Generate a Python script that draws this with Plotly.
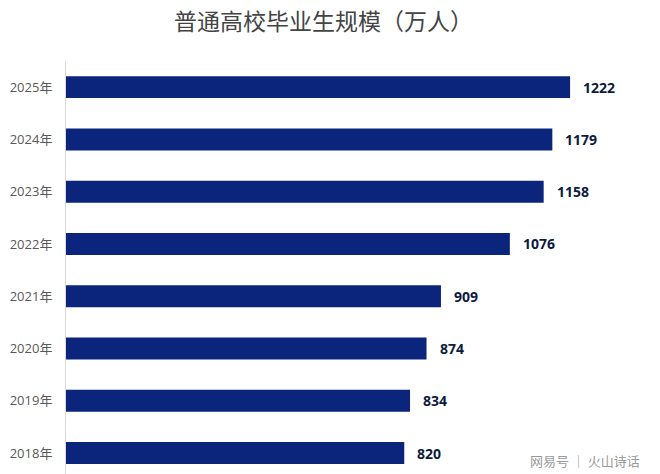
import plotly.graph_objects as go

years = ["2018年", "2019年", "2020年", "2021年", "2022年", "2023年", "2024年", "2025年"]
values = [820, 834, 874, 909, 1076, 1158, 1179, 1222]
title_text = "普通高校毕业生规模（万人）"
watermark = "网易号 ｜ 火山诗话"

fig = go.Figure()
fig.add_trace(go.Bar(
    x=values, y=years, orientation="h",
    marker=dict(color="#0b247c", line=dict(width=0)),
    width=0.42,
    hoverinfo="skip",
))

for v, yv in zip(values, years):
    fig.add_annotation(
        x=v, y=yv, xref="x", yref="y", text=f"<b>{v}</b>",
        showarrow=False, xanchor="left", xshift=11,
        font=dict(family="Open Sans, Noto Sans CJK SC", size=14, color="#0d1b3e"),
    )

fig.add_annotation(
    x=0.97, y=0.005, xref="paper", yref="paper", text=watermark,
    showarrow=False, xanchor="right", yanchor="bottom",
    font=dict(family="Noto Sans CJK SC", size=13, color="#9a9a9a"),
)

fig.update_layout(
    width=660, height=474,
    margin=dict(l=66, r=0, t=61, b=0),
    paper_bgcolor="white", plot_bgcolor="white",
    title=dict(text=title_text, x=0.49, xanchor="center", y=0.953, yanchor="middle",
               font=dict(family="Noto Sans CJK SC", size=23, color="#444444")),
    showlegend=False,
    xaxis=dict(range=[0, 1440], visible=False, fixedrange=True),
    yaxis=dict(
        type="category", categoryorder="array", categoryarray=years,
        range=[-0.4, 7.5],
        showline=True, linecolor="#d9d9d9", linewidth=1,
        showgrid=False, ticks="", ticklabelstandoff=10,
        tickfont=dict(family="Open Sans, Noto Sans CJK SC", size=13, color="#595959"),
    ),
    bargap=0.58,
)

fig.write_html("out.html")
